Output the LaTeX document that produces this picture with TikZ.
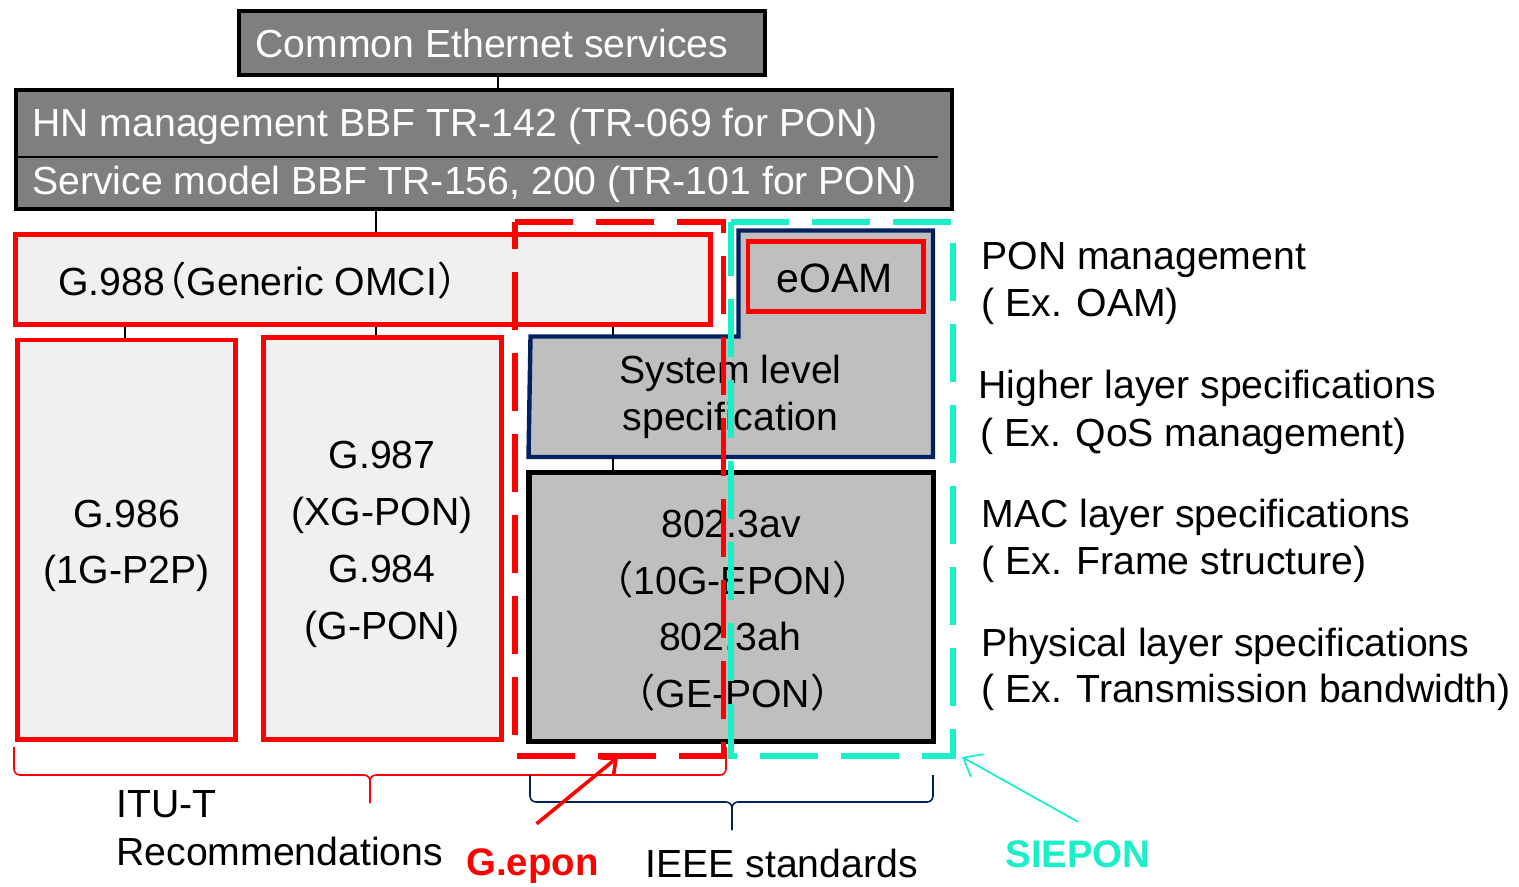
\documentclass[tikz,border=0pt]{standalone}
\usepackage{fontspec}
\setmainfont{Liberation Sans}
\newfontfamily\cjk{Noto Sans CJK SC}
\usetikzlibrary{arrows.meta}
\definecolor{dgray}{RGB}{127,127,127}
\definecolor{lgray}{RGB}{240,240,240}
\definecolor{mgray}{RGB}{191,191,191}
\definecolor{navyx}{RGB}{0,32,96}
\definecolor{pred}{RGB}{255,0,0}
\definecolor{cyanx}{RGB}{25,240,200}
\newcommand\flp{\kern-0.45em{\cjk （}}
\newcommand\frp{{\cjk ）}\kern-0.55em}
\begin{document}
\begin{tikzpicture}[x=0.5pt,y=-0.5pt,
  txt/.style={inner sep=0pt, font=\fontsize{19.6}{23.5}\selectfont},
  gbox/.style={draw=black, line width=2pt, fill=dgray, inner sep=0pt},
  rbox/.style={draw=pred, line width=2.4pt, fill=lgray, inner sep=0pt},
  link/.style={draw=black, line width=1pt},
  dashbox/.style={line width=2.6pt, dash pattern=on 29pt off 11.5pt},
  bracex/.style={line width=0.8pt, rounded corners=3pt}]
\useasboundingbox (0,0) rectangle (1519,887);

% coordinates for vertical connectors
\coordinate (v498) at (498,0);
\coordinate (v376) at (376,0);
\coordinate (v125) at (125,0);
\coordinate (v613) at (613,0);

% top boxes
\node[gbox, minimum width=263pt, minimum height=32.25pt] (ces) at (502,43.25) {};
\node[txt, white, anchor=base west] (cest) at (255,58) {Common Ethernet services};
\node[gbox, minimum width=468pt, minimum height=59.25pt] (hn) at (484,149.75) {};
\draw[black, line width=0.8pt] (hn.west |- 0,157) -- (938,157);
\node[txt, white, anchor=base west] (hnt) at (32,137) {HN management BBF TR-142 (TR-069 for PON)};
\node[txt, white, anchor=base west] (smt) at (32,195) {Service model BBF TR-156, 200 (TR-101 for PON)};

% ITU boxes
\node[rbox, minimum width=347.2pt, minimum height=44.85pt] (g988) at (363,279.35) {};
\node[txt, anchor=base west] (g988t) at (58,296) {G.988\flp Generic OMCI{\cjk ）}};
\node[rbox, minimum width=109.15pt, minimum height=199.6pt] (g986) at (126.65,539.6) {};
\node[txt, anchor=base] (g986a) at (126.5,527) {G.986};
\node[txt, anchor=base] (g986b) at (126.5,583) {(1G-P2P)};
\node[rbox, minimum width=118.85pt, minimum height=201pt] (g987) at (382.65,538.2) {};
\node[txt, anchor=base] (g987a) at (382,468) {G.987};
\node[txt, anchor=base] (g987b) at (382,525) {(XG-PON)};
\node[txt, anchor=base] (g987c) at (382,582) {G.984};
\node[txt, anchor=base] (g987d) at (382,639) {(G-PON)};

% system level specification (notched shape)
\draw[navyx, line width=2.2pt, fill=mgray] (530.5,336.5) -- (738.5,336.5) -- (738.5,230.5)
   -- (933,230.5) -- (933,457) -- (528.5,457) -- cycle;
\node[minimum width=201.5pt, minimum height=60.25pt, inner sep=0pt] (sys) at (731,396.75) {};
\node[txt, anchor=base] (sysa) at (730.5,383) {System level};
\node[txt, anchor=base] (sysb) at (730.5,430) {specification};
\node[draw=pred, line width=2.4pt, fill=mgray, inner sep=0pt, minimum width=87.65pt, minimum height=35pt] (eoam) at (835.7,276.5) {};
\node[inner sep=0pt, font=\fontsize{20.5}{24}\selectfont, anchor=base] (eoamt) at (835,293) {eOAM};

% 802.3 box
\node[draw=black, line width=2.6pt, fill=mgray, inner sep=0pt, minimum width=202.25pt, minimum height=134.5pt] (ieee) at (731.25,607) {};
\node[txt, anchor=base] (ia) at (731,537) {802.3av};
\node[txt, anchor=base] (ib) at (731,594) {\flp 10G-EPON\frp};
\node[txt, anchor=base] (ic) at (730,650) {802.3ah};
\node[txt, anchor=base] (id) at (731,707) {\flp GE-PON\frp};

% connectors
\draw[link] (ces.south -| v498) -- (hn.north -| v498);
\draw[link] (hn.south -| v376) -- (g988.north -| v376);
\draw[link] (g988.south -| v125) -- (g986.north -| v125);
\draw[link] (g988.south -| v376) -- (g987.north -| v376);
\draw[link] (g988.south -| v613) -- (sys.north -| v613);
\draw[link] (sys.south -| v613) -- (ieee.north -| v613);

% dashed groups
\draw[dashbox, pred] (515,222) -- (723.7,222) -- (723.7,756) -- (515,756) -- cycle;
\draw[dashbox, cyanx] (731,222) -- (953,222) -- (953,756) -- (731,756) -- cycle;

% right labels
\node[txt, anchor=base west] (l1) at (981,270) {PON management};
\node[txt, anchor=base west] (l2) at (981,317) {( Ex. OAM)};
\node[txt, anchor=base west] (l3) at (978,399) {Higher layer specifications};
\node[txt, anchor=base west] (l4) at (980,446) {( Ex. QoS management)};
\node[txt, anchor=base west] (l5) at (981,527) {MAC layer specifications};
\node[txt, anchor=base west] (l6) at (981,574) {( Ex. Frame structure)};
\node[txt, anchor=base west] (l7) at (981,656) {Physical layer specifications};
\node[txt, anchor=base west] (l8) at (981,702) {( Ex. Transmission bandwidth)};

% braces
\draw[bracex, pred] (14,747) -- (14,775) -- (370,775) -- (370,803);
\draw[bracex, pred] (370,803) -- (370,775) -- (726,775) -- (726,747);
\draw[bracex, navyx] (530,775) -- (530,802) -- (732,802) -- (732,830);
\draw[bracex, navyx] (732,830) -- (732,802) -- (933,802) -- (933,775);

% bottom labels
\node[txt, anchor=base west] (itu1) at (116,817) {ITU-T};
\node[txt, anchor=base west] (itu2) at (116,865) {Recommendations};
\node[txt, anchor=base west, text=pred, font=\fontsize{19.2}{23}\selectfont\bfseries] (gepon) at (466,875) {G.epon};
\node[txt, anchor=base west] (ieeet) at (645,877) {IEEE standards};
\node[txt, anchor=base west, text=cyanx, font=\fontsize{19.2}{23}\selectfont\bfseries] (siepon) at (1005,867) {SIEPON};

% arrows
\coordinate (gtip) at (618,757);
\coordinate (stip) at (962,757);
\draw[pred, line width=1.8pt, -{Straight Barb[length=6pt,width=11pt]}] ([xshift=2pt,yshift=12pt]gepon.north) -- (gtip);
\draw[cyanx, line width=0.9pt, -{Straight Barb[length=8pt,width=13pt]}] ([yshift=9pt]siepon.north) -- (stip);
\end{tikzpicture}
\end{document}
